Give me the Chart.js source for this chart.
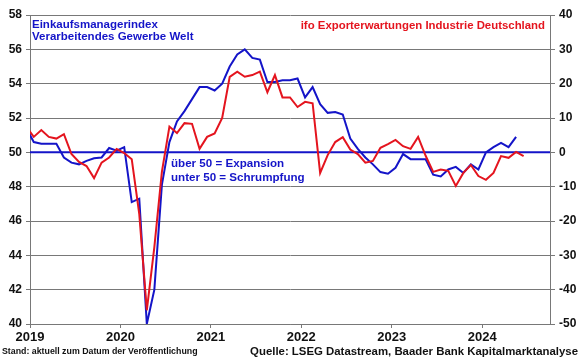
<!DOCTYPE html>
<html>
<head>
<meta charset="utf-8">
<script src="https://cdn.jsdelivr.net/npm/chart.js@4/dist/chart.umd.min.js"></script>
<style>
  body { margin: 0; background: #fff; }
  #graph { display: block; }
</style>
</head>
<body>
<canvas id="graph" width="580" height="359"></canvas>
<script>
// Monatswerte, erster Wert = Dez 2018
var startYear = 2018;
var startMonth = 11;

var pmiWelt = [
  51.4,
  50.6, 50.5, 50.5, 50.5, 49.7, 49.4, 49.3, 49.5, 49.65, 49.7, 50.25, 50.1,
  50.3, 47.1, 47.3, 40.0, 42.0, 48.1, 50.6, 51.8, 52.4, 53.1, 53.8, 53.8,
  53.6, 54.0, 55.0, 55.7, 56.0, 55.5, 55.4, 54.1, 54.1, 54.2, 54.2, 54.3,
  53.2, 53.8, 52.8, 52.3, 52.35, 52.2, 50.8, 50.2, 49.7, 49.3, 48.85, 48.75,
  49.1, 49.9, 49.6, 49.6, 49.6, 48.7, 48.6, 49.0, 49.15, 48.8, 49.3, 49.0,
  50.0, 50.3, 50.55, 50.3, 50.9
];

var ifoExport = [
  7.5,
  4.5, 6.5, 4.5, 4.0, 5.3, -0.5, -2.8, -4, -7.5, -3, -1.5, 1,
  -0.2, -2, -18, -46, -27.6, -5.7, 7.5, 5.6, 8.5, 8.3, 1, 4.5,
  5.5, 10, 22, 23.5, 22, 22.5, 23.5, 17.5, 22.5, 16, 16, 13.2,
  14.7, 14.3, -6, -0.8, 3, 4.4, 0.8, -0.5, -3, -2.5, 1.3, 2.4,
  3.6, 1.8, 1, 4.5, -1, -5.7, -5, -5.4, -9.8, -6, -3.7, -6.9,
  -8, -6, -1.1, -1.6, 0.1, -1.1
];

var xTickLabels = [2019, 2020, 2021, 2022, 2023, 2024];
var xMin = 2019;
var xMax = 2024.75;
var schwelle = 50;

var blau = "rgb(20, 20, 200)";
var rot = "rgb(228, 20, 30)";
var grau = "rgb(120, 120, 120)";
var fontName = "'Liberation Sans', Arial, sans-serif";

// Monat -> Dezimaljahr (Monatsmitte)
function toPoints(values) {
  var pts = [];
  for (let i = 0; i < values.length; i++) {
    let m = startMonth + i;
    pts.push({ x: startYear + (m + 0.5) / 12, y: values[i] });
  }
  return pts;
}

var texte = {
  id: "texte",
  afterDraw: function (chart) {
    var ctx = chart.ctx;
    ctx.save();
    ctx.textBaseline = "middle";

    ctx.fillStyle = blau;
    ctx.textAlign = "left";
    ctx.font = "bold 11.5px " + fontName;
    ctx.fillText("Einkaufsmanagerindex", 32, 25);
    ctx.fillText("Verarbeitendes Gewerbe Welt", 32, 37);

    ctx.font = "bold 11.6px " + fontName;
    ctx.fillText("über 50 = Expansion", 171, 164);
    ctx.fillText("unter 50 = Schrumpfung", 171, 178);

    ctx.fillStyle = rot;
    ctx.textAlign = "right";
    ctx.font = "bold 11.4px " + fontName;
    ctx.fillText("ifo Exporterwartungen Industrie Deutschland", 545, 26);

    ctx.fillStyle = "#111";
    ctx.textAlign = "left";
    ctx.font = "bold 8.8px " + fontName;
    ctx.fillText("Stand: aktuell zum Datum der Veröffentlichung", 2, 352);

    ctx.textAlign = "right";
    ctx.font = "bold 11.4px " + fontName;
    ctx.fillText("Quelle: LSEG Datastream, Baader Bank Kapitalmarktanalyse", 578, 352);
    ctx.restore();
  }
};

var tickFont = { family: fontName, size: 12, weight: "bold" };

var data = {
  datasets: [
    {
      label: "ifo Exporterwartungen",
      data: toPoints(ifoExport),
      yAxisID: "y2",
      borderColor: rot,
      borderWidth: 2,
    },
    {
      label: "PMI Welt",
      data: toPoints(pmiWelt),
      yAxisID: "y",
      borderColor: blau,
      borderWidth: 2,
    },
    {
      label: "50",
      data: [{ x: xMin, y: schwelle }, { x: xMax, y: schwelle }],
      yAxisID: "y",
      borderColor: blau,
      borderWidth: 2,
    },
  ],
};

var options = {
  responsive: false,
  animation: false,
  devicePixelRatio: 1,
  layout: { padding: { top: 15, left: 0, right: 0, bottom: 0 } },
  elements: { point: { radius: 0 }, line: { tension: 0 } },
  plugins: { legend: { display: false }, tooltip: { enabled: false } },
  scales: {
    x: {
      type: "linear",
      min: xMin,
      max: xMax,
      afterBuildTicks: function (scale) {
        scale.ticks = xTickLabels.map(function (v) { return { value: v }; });
      },
      afterFit: function (scale) { scale.height = 35; },
      grid: { drawOnChartArea: false, color: grau, tickLength: 4 },
      border: { color: grau },
      ticks: {
        color: "#111",
        font: { family: fontName, size: 13, weight: "bold" },
        padding: 2,
        maxRotation: 0,
        callback: function (v) { return String(v); }
      },
    },
    y: {
      position: "left",
      min: 40,
      max: 58,
      afterFit: function (scale) { scale.width = 30; },
      grid: { color: grau, tickLength: 4 },
      border: { color: grau },
      ticks: { stepSize: 2, color: "#111", font: tickFont, padding: 4 },
    },
    y2: {
      position: "right",
      min: -50,
      max: 40,
      afterFit: function (scale) { scale.width = 30; },
      grid: { drawOnChartArea: false, color: grau, tickLength: 5 },
      border: { color: grau },
      ticks: { stepSize: 10, color: "#111", font: tickFont, padding: 4 },
    },
  },
};

var config = {
  type: "line",
  data: data,
  options: options,
  plugins: [texte],
};

var ctx = document.getElementById("graph").getContext("2d");
var graph = new Chart(ctx, config);
</script>
</body>
</html>
